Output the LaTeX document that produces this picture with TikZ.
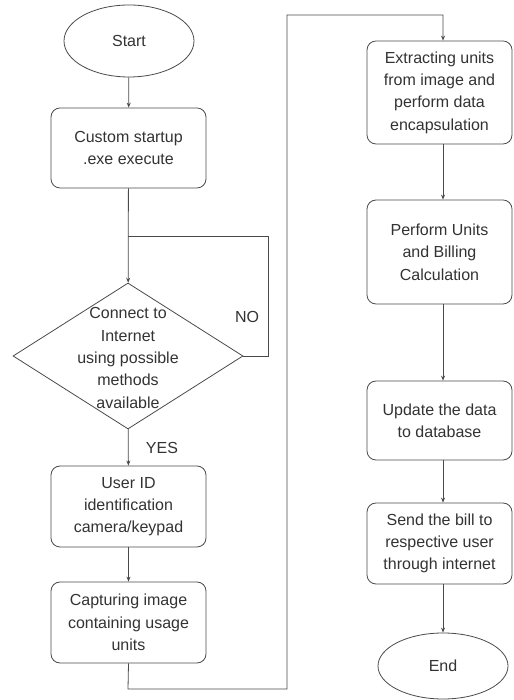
\documentclass[tikz,border=0pt]{standalone}
\usepackage{fontspec}
\setmainfont{Liberation Sans}
\usetikzlibrary{shapes.geometric,arrows.meta}
\definecolor{ink}{HTML}{4A4A4A}
\definecolor{txt}{HTML}{333333}
\tikzset{
  every node/.style={font=\fontsize{16}{22.3}\selectfont, text=txt},
  stepbox/.style={draw=ink, line width=0.8pt, rounded corners=9pt, align=center,
    inner sep=2pt},
  term/.style={draw=ink, line width=0.8pt, ellipse, minimum width=130pt, minimum height=72pt, inner sep=0pt},
  decide/.style={draw=ink, line width=0.8pt, diamond, minimum width=230pt, minimum height=146pt,
    inner sep=0pt},
  link/.style={draw=ink, line width=0.8pt},
  arr/.style={link, -{Stealth[length=5pt,width=4pt]}},
  lbl/.style={font=\fontsize{16}{20}\selectfont}
}
\begin{document}
\begin{tikzpicture}[x=1pt,y=1pt]
\useasboundingbox[fill=white] (0,0) rectangle (513,700);

% left column
\node[term] (start) at (129,659) {Start};
\node[stepbox, minimum width=155pt, minimum height=80pt] (custom) at (128.5,552)
  {Custom startup\\.exe execute};
\node[decide] (dia) at (128,344) {};
\node[align=center] (diatext) at (128,342)
  {Connect to\\Internet\\using possible\\methods\\available};
\node[stepbox, minimum width=155pt, minimum height=81pt] (user) at (128.5,193.5)
  {User ID\\identification\\camera/keypad};
\node[stepbox, minimum width=155pt, minimum height=81pt] (capt) at (128.5,77.5)
  {Capturing image\\containing usage\\units};

% right column
\node[stepbox, minimum width=145pt, minimum height=103pt] (ext) at (439.5,607.5)
  {Extracting units\\from image and\\perform data\\encapsulation};
\node[stepbox, minimum width=145pt, minimum height=104pt] (perf) at (439.5,448)
  {Perform Units\\and Billing\\Calculation};
\node[stepbox, minimum width=145pt, minimum height=79pt] (upd) at (439.5,279.5)
  {Update the data\\to database};
\node[stepbox, minimum width=145pt, minimum height=81pt] (send) at (439.5,156.5)
  {Send the bill to\\respective user\\through internet};
\node[term, minimum height=66pt] (end) at (443,34) {End};

% routing points
\coordinate (join) at (128,464);
\coordinate (loopr) at (268,344);
\coordinate (low) at (128,11);
\coordinate (mid) at (287,11);
\coordinate (top) at (287,685);

% labels
\node[lbl] (no) at (247,383) {NO};
\node[lbl] (yes) at (162,252) {YES};

% connectors, left column
\draw[arr] (start) -- (custom);
\draw[arr] (custom) -- (dia);
\draw[link] (dia.east) -- (loopr) |- (join);
\draw[arr] (dia) -- (user);
\draw[arr] (user) -- (capt);

% crossing from the left column to the right column
\draw[arr] (capt.south) -- (low) -- (mid) -- (top) -| (ext.north -| end.center);

% connectors, right column
\draw[arr] (ext.south -| end.center) -- (perf.north -| end.center);
\draw[arr] (perf.south -| end.center) -- (upd.north -| end.center);
\draw[arr] (upd.south -| end.center) -- (send.north -| end.center);
\draw[arr] (send.south -| end.center) -- (end);
\end{tikzpicture}
\end{document}
